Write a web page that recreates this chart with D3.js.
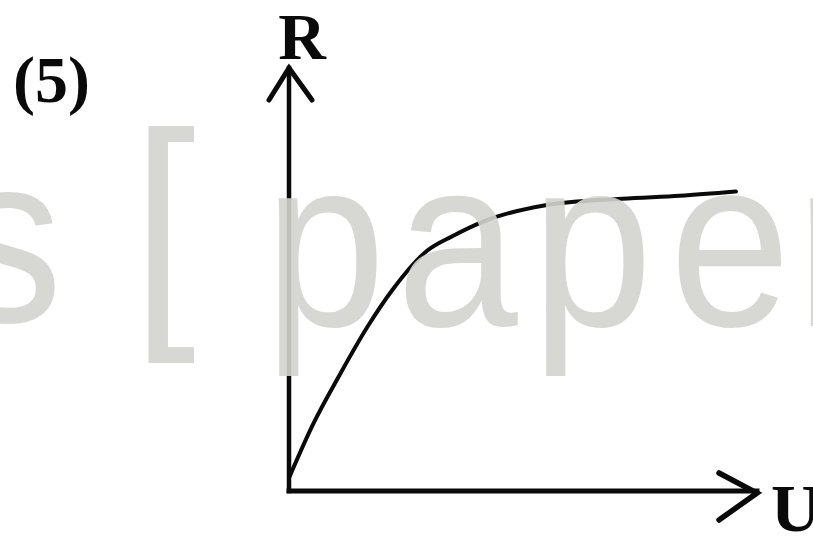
<!DOCTYPE html>
<html>
<head>
<meta charset="utf-8">
<script src="https://cdn.jsdelivr.net/npm/d3@7/dist/d3.min.js"></script>
<style>
  html, body { margin: 0; padding: 0; background: #fff; overflow: hidden; }
  svg { display: block; }
</style>
</head>
<body>
<svg id="chart" width="813" height="537"></svg>
<script>
// R against U (arbitrary units, axes run 0..10)
const uValues = [0, 0.51, 1.09, 1.67, 2.22, 2.95, 3.50, 4.15, 5.45, 7.12, 8.35, 9.55];
const rValues = [0.31, 1.57, 2.76, 3.87, 4.77, 5.68, 6.03, 6.37, 6.75, 6.91, 6.98, 7.08];
const axisLabels = ['U', 'R'];
const panelLabel = '(5)';
// scanned watermark, one glyph at a time
const watermarkGlyphs = ['s', '[', 'p', 'a', 'p', 'e', 'r'];

const svg = d3.select('#chart');

const x = d3.scaleLinear().domain([0, 10]).range([289, 757]);
const y = d3.scaleLinear().domain([0, 10]).range([491, 68]);

const points = uValues.map(function (u, i) { return { u: u, r: rValues[i] }; });

const ink = '#0a0a0a';
const g = svg.append('g');

// axes: plain lines with open arrowheads, no ticks
g.append('line')
  .attr('x1', x(0)).attr('y1', y(0))
  .attr('x2', x(0)).attr('y2', y(10))
  .attr('stroke', ink).attr('stroke-width', 4.5).attr('stroke-linecap', 'square');
g.append('line')
  .attr('x1', x(0)).attr('y1', y(0))
  .attr('x2', x(10)).attr('y2', y(0))
  .attr('stroke', ink).attr('stroke-width', 5).attr('stroke-linecap', 'square');

const arrow = d3.line();
g.append('path')
  .attr('d', arrow([[x(0) - 20, y(10) + 32], [x(0), y(10)], [x(0) + 23, y(10) + 32]]))
  .attr('fill', 'none').attr('stroke', ink).attr('stroke-width', 5)
  .attr('stroke-linejoin', 'miter').attr('stroke-linecap', 'round');
g.append('path')
  .attr('d', arrow([[x(10) - 38, y(0) - 18], [x(10), y(0) + 2], [x(10) - 38, y(0) + 29]]))
  .attr('fill', 'none').attr('stroke', ink).attr('stroke-width', 5.5)
  .attr('stroke-linejoin', 'miter').attr('stroke-linecap', 'round');

// the curve
const line = d3.line()
  .x(function (d) { return x(d.u); })
  .y(function (d) { return y(d.r); })
  .curve(d3.curveMonotoneX);
g.append('path')
  .datum(points)
  .attr('d', line)
  .attr('fill', 'none')
  .attr('stroke', ink)
  .attr('stroke-width', 4)
  .attr('stroke-linecap', 'round');

// labels
const serif = '"Liberation Serif", "DejaVu Serif", serif';
g.append('text')
  .attr('x', x(0) + 13).attr('y', 59)
  .attr('text-anchor', 'middle')
  .attr('font-family', serif).attr('font-weight', 'bold').attr('font-size', 66)
  .attr('fill', ink)
  .text(axisLabels[1]);
g.append('text')
  .attr('x', 771).attr('y', 531)
  .attr('font-family', serif).attr('font-weight', 'bold').attr('font-size', 68)
  .attr('fill', ink)
  .text(axisLabels[0]);
g.append('text')
  .attr('x', 13).attr('y', 102)
  .attr('font-family', serif).attr('font-weight', 'bold').attr('font-size', 66)
  .attr('fill', ink)
  .text(panelLabel);

// watermark sits over the drawing, as in the scan
const wmCentres = [8, 164, 325, 457, 592, 730, 832];
const wmBase = [322, 310, 326, 326, 326, 326, 326];
const wmSize = [242, 254, 242, 242, 242, 242, 242];
const wm = svg.append('g')
  .attr('fill', '#d3d3cf')
  .attr('fill-opacity', 0.9)
  .attr('font-family', '"Liberation Sans", Arial, sans-serif');
wm.selectAll('text')
  .data(watermarkGlyphs)
  .join('text')
  .attr('text-anchor', 'middle')
  .attr('font-size', function (d, i) { return wmSize[i]; })
  .attr('transform', function (d, i) {
    return 'translate(' + wmCentres[i] + ',' + wmBase[i] + ') scale(0.9,1)';
  })
  .text(function (d) { return d; });
</script>
</body>
</html>
